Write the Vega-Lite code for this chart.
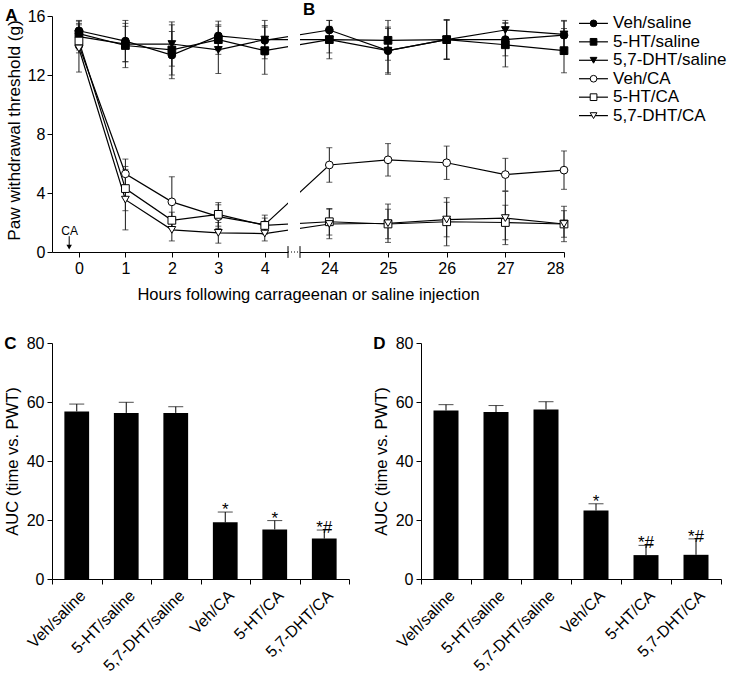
{
  "$schema": "https://vega.github.io/schema/vega-lite/v6.json",
  "padding": {"left": 4, "top": 0, "right": 0, "bottom": 0},
  "config": {
    "font": "Liberation Sans",
    "view": {"stroke": null},
    "axis": {"domainColor": "black", "tickColor": "black", "labelColor": "black", "titleColor": "black", "grid": false, "labelFontSize": 16, "titleFontSize": 16.5, "titleFontWeight": "normal", "tickSize": 5, "domainWidth": 1, "tickWidth": 1, "labelPadding": 3, "labelOverlap": false},
    "title": {"fontSize": 17, "fontWeight": "bold", "anchor": "start", "frame": "bounds", "color": "black"}
  },
  "spacing": 32,
  "vconcat": [
    {
      "spacing": 8,
      "hconcat": [
        {
          "title": {"text": "A", "offset": -24},
          "width": 512,
          "height": 236,
          "data": {"values": [
            {"h": 0, "g": "Veh/saline", "m": 15.0, "e": 0.7},
            {"h": 1, "g": "Veh/saline", "m": 14.3, "e": 1.4},
            {"h": 2, "g": "Veh/saline", "m": 13.35, "e": 1.6},
            {"h": 3, "g": "Veh/saline", "m": 14.65, "e": 1.0},
            {"h": 4, "g": "Veh/saline", "m": 14.35, "e": 1.0},
            {"h": 24, "g": "Veh/saline", "m": 15.05, "e": 0.65},
            {"h": 25, "g": "Veh/saline", "m": 13.65, "e": 1.6},
            {"h": 26, "g": "Veh/saline", "m": 14.4, "e": 1.35},
            {"h": 27, "g": "Veh/saline", "m": 14.4, "e": 1.1},
            {"h": 28, "g": "Veh/saline", "m": 14.7, "e": 1.0},
            {"h": 0, "g": "5-HT/saline", "m": 14.8, "e": 0.85},
            {"h": 1, "g": "5-HT/saline", "m": 14.0, "e": 1.5},
            {"h": 2, "g": "5-HT/saline", "m": 13.7, "e": 1.7},
            {"h": 3, "g": "5-HT/saline", "m": 14.4, "e": 1.0},
            {"h": 4, "g": "5-HT/saline", "m": 13.65, "e": 1.6},
            {"h": 24, "g": "5-HT/saline", "m": 14.4, "e": 1.3},
            {"h": 25, "g": "5-HT/saline", "m": 14.35, "e": 1.35},
            {"h": 26, "g": "5-HT/saline", "m": 14.4, "e": 1.35},
            {"h": 27, "g": "5-HT/saline", "m": 14.05, "e": 1.5},
            {"h": 28, "g": "5-HT/saline", "m": 13.65, "e": 1.5},
            {"h": 0, "g": "5,7-DHT/saline", "m": 14.6, "e": 0.9},
            {"h": 1, "g": "5,7-DHT/saline", "m": 14.1, "e": 1.2},
            {"h": 2, "g": "5,7-DHT/saline", "m": 14.1, "e": 1.5},
            {"h": 3, "g": "5,7-DHT/saline", "m": 13.7, "e": 1.6},
            {"h": 4, "g": "5,7-DHT/saline", "m": 14.4, "e": 1.3},
            {"h": 24, "g": "5,7-DHT/saline", "m": 14.4, "e": 0.9},
            {"h": 25, "g": "5,7-DHT/saline", "m": 13.65, "e": 1.5},
            {"h": 26, "g": "5,7-DHT/saline", "m": 14.4, "e": 1.3},
            {"h": 27, "g": "5,7-DHT/saline", "m": 15.05, "e": 0.65},
            {"h": 28, "g": "5,7-DHT/saline", "m": 14.75, "e": 0.9},
            {"h": 0, "g": "Veh/CA", "m": 14.0, "e": 0.5},
            {"h": 1, "g": "Veh/CA", "m": 5.3, "e": 1.0},
            {"h": 2, "g": "Veh/CA", "m": 3.4, "e": 1.7},
            {"h": 3, "g": "Veh/CA", "m": 2.4, "e": 0.8},
            {"h": 4, "g": "Veh/CA", "m": 1.85, "e": 0.65},
            {"h": 24, "g": "Veh/CA", "m": 5.9, "e": 1.17},
            {"h": 25, "g": "Veh/CA", "m": 6.25, "e": 1.1},
            {"h": 26, "g": "Veh/CA", "m": 6.05, "e": 1.13},
            {"h": 27, "g": "Veh/CA", "m": 5.25, "e": 1.1},
            {"h": 28, "g": "Veh/CA", "m": 5.55, "e": 1.3},
            {"h": 0, "g": "5-HT/CA", "m": 14.3, "e": 0.45},
            {"h": 1, "g": "5-HT/CA", "m": 4.3, "e": 1.5},
            {"h": 2, "g": "5-HT/CA", "m": 2.15, "e": 0.55},
            {"h": 3, "g": "5-HT/CA", "m": 2.55, "e": 0.8},
            {"h": 4, "g": "5-HT/CA", "m": 1.8, "e": 0.5},
            {"h": 24, "g": "5-HT/CA", "m": 2.05, "e": 0.9},
            {"h": 25, "g": "5-HT/CA", "m": 1.9, "e": 1.0},
            {"h": 26, "g": "5-HT/CA", "m": 2.05, "e": 1.63},
            {"h": 27, "g": "5-HT/CA", "m": 2.0, "e": 1.17},
            {"h": 28, "g": "5-HT/CA", "m": 1.9, "e": 1.2},
            {"h": 0, "g": "5,7-DHT/CA", "m": 13.8, "e": 1.6},
            {"h": 1, "g": "5,7-DHT/CA", "m": 3.55, "e": 2.05},
            {"h": 2, "g": "5,7-DHT/CA", "m": 1.5, "e": 0.75},
            {"h": 3, "g": "5,7-DHT/CA", "m": 1.3, "e": 0.7},
            {"h": 4, "g": "5,7-DHT/CA", "m": 1.25, "e": 0.5},
            {"h": 24, "g": "5,7-DHT/CA", "m": 1.9, "e": 1.0},
            {"h": 25, "g": "5,7-DHT/CA", "m": 1.95, "e": 1.3},
            {"h": 26, "g": "5,7-DHT/CA", "m": 2.2, "e": 1.17},
            {"h": 27, "g": "5,7-DHT/CA", "m": 2.3, "e": 1.8},
            {"h": 28, "g": "5,7-DHT/CA", "m": 1.9, "e": 0.9}
          ]},
          "layer": [
            {
              "mark": {"type": "line", "color": "black", "strokeWidth": 1.2},
              "encoding": {
                "x": {"field": "h", "type": "quantitative", "title": "Hours following carrageenan or saline injection",
                  "scale": {"domain": [-0.58, 4.5, 23.5, 28], "range": [0, 236, 248, 512], "nice": false, "zero": false, "padding": 0},
                  "axis": {"values": [0, 1, 2, 3, 4, 24, 25, 26, 27, 28], "format": "d", "titlePadding": 10}},
                "y": {"field": "m", "type": "quantitative", "title": "Paw withdrawal threshold (g)", "scale": {"domain": [0, 16], "nice": false},
                  "axis": {"values": [0, 2, 4, 6, 8, 10, 12, 14, 16], "titleFontSize": 17.2, "titleY": 114, "labelPadding": 2, "titlePadding": 4}},
                "detail": {"field": "g"}
              }
            },
            {
              "mark": {"type": "errorbar", "ticks": {"size": 6, "thickness": 1}, "color": "#1a1a1a"},
              "encoding": {
                "x": {"field": "h", "type": "quantitative", "title": "Hours following carrageenan or saline injection"},
                "y": {"field": "m", "type": "quantitative", "title": "Paw withdrawal threshold (g)"},
                "yError": {"field": "e"}
              }
            },
            {
              "mark": {"type": "point", "filled": true, "opacity": 1, "size": 60, "stroke": "black", "strokeWidth": 1},
              "encoding": {
                "x": {"field": "h", "type": "quantitative", "title": "Hours following carrageenan or saline injection"},
                "y": {"field": "m", "type": "quantitative", "title": "Paw withdrawal threshold (g)"},
                "shape": {"field": "g", "type": "nominal",
                  "scale": {"domain": ["Veh/saline", "5-HT/saline", "5,7-DHT/saline", "Veh/CA", "5-HT/CA", "5,7-DHT/CA"], "range": ["circle", "square", "triangle-down", "circle", "square", "triangle-down"]},
                  "legend": null},
                "fill": {"field": "g", "type": "nominal",
                  "scale": {"domain": ["Veh/saline", "5-HT/saline", "5,7-DHT/saline", "Veh/CA", "5-HT/CA", "5,7-DHT/CA"], "range": ["black", "black", "black", "white", "white", "white"]},
                  "legend": null}
              }
            },
            {
              "data": {"values": [{}]},
              "mark": {"type": "rect", "fill": "white"},
              "encoding": {
                "x": {"datum": 4.5, "type": "quantitative"}, "x2": {"datum": 23.5},
                "y": {"datum": -0.12, "type": "quantitative"}, "y2": {"datum": 16}
              }
            },
            {
              "data": {"values": [{}]},
              "mark": {"type": "rule", "color": "black"},
              "encoding": {"x": {"datum": 4.5, "type": "quantitative"}, "y": {"datum": -0.4, "type": "quantitative"}, "y2": {"datum": 0.4}}
            },
            {
              "data": {"values": [{}]},
              "mark": {"type": "rule", "color": "black"},
              "encoding": {"x": {"datum": 23.5, "type": "quantitative"}, "y": {"datum": -0.4, "type": "quantitative"}, "y2": {"datum": 0.4}}
            },
            {
              "data": {"values": [{}]},
              "mark": {"type": "rule", "color": "black", "strokeDash": [1, 2]},
              "encoding": {"x": {"datum": 4.5, "type": "quantitative"}, "x2": {"datum": 23.5}, "y": {"datum": 0, "type": "quantitative"}}
            },
            {
              "data": {"values": [{}]},
              "mark": {"type": "text", "text": "CA", "fontSize": 12, "baseline": "alphabetic", "color": "black"},
              "encoding": {"x": {"datum": -0.2, "type": "quantitative"}, "y": {"datum": 1.17, "type": "quantitative"}}
            },
            {
              "data": {"values": [{}]},
              "mark": {"type": "rule", "color": "black"},
              "encoding": {"x": {"datum": -0.21, "type": "quantitative"}, "y": {"datum": 1.07, "type": "quantitative"}, "y2": {"datum": 0.45}}
            },
            {
              "data": {"values": [{}]},
              "mark": {"type": "point", "shape": "triangle-down", "filled": true, "color": "black", "size": 30, "opacity": 1},
              "encoding": {"x": {"datum": -0.21, "type": "quantitative"}, "y": {"datum": 0.33, "type": "quantitative"}}
            },
            {
              "data": {"values": [{}]},
              "mark": {"type": "text", "text": "B", "fontSize": 17, "fontWeight": "bold", "align": "left", "baseline": "alphabetic", "color": "black"},
              "encoding": {"x": {"datum": 23.55, "type": "quantitative"}, "y": {"datum": 16.07, "type": "quantitative"}}
            }
          ]
        },
        {
          "width": 150,
          "height": 107,
          "data": {"values": [
            {"g": "Veh/saline"}, {"g": "5-HT/saline"}, {"g": "5,7-DHT/saline"},
            {"g": "Veh/CA"}, {"g": "5-HT/CA"}, {"g": "5,7-DHT/CA"}
          ]},
          "encoding": {
            "y": {"field": "g", "type": "nominal", "sort": null, "scale": {"type": "point", "padding": 0.4}, "axis": null}
          },
          "layer": [
            {
              "mark": {"type": "rule", "color": "black", "strokeWidth": 1.2},
              "encoding": {
                "x": {"datum": 0, "type": "quantitative", "scale": {"domain": [0, 1], "nice": false, "zero": false}, "axis": null},
                "x2": {"datum": 0.193}
              }
            },
            {
              "mark": {"type": "point", "filled": true, "opacity": 1, "stroke": "black", "strokeWidth": 1},
              "encoding": {
                "x": {"datum": 0.097, "type": "quantitative"},
                "shape": {"field": "g", "type": "nominal",
                  "scale": {"domain": ["Veh/saline", "5-HT/saline", "5,7-DHT/saline", "Veh/CA", "5-HT/CA", "5,7-DHT/CA"], "range": ["circle", "square", "triangle-down", "circle", "square", "triangle-down"]},
                  "legend": null},
                "fill": {"field": "g", "type": "nominal",
                  "scale": {"domain": ["Veh/saline", "5-HT/saline", "5,7-DHT/saline", "Veh/CA", "5-HT/CA", "5,7-DHT/CA"], "range": ["black", "black", "black", "white", "white", "white"]},
                  "legend": null},
                "size": {"field": "g", "type": "ordinal",
                  "scale": {"domain": ["Veh/saline", "5-HT/saline", "5,7-DHT/saline", "Veh/CA", "5-HT/CA", "5,7-DHT/CA"], "range": [45, 45, 45, 28, 28, 28]},
                  "legend": null}
              }
            },
            {
              "mark": {"type": "text", "align": "left", "baseline": "middle", "fontSize": 17, "color": "black"},
              "encoding": {
                "x": {"datum": 0.227, "type": "quantitative"},
                "text": {"field": "g"}
              }
            }
          ]
        }
      ]
    },
    {
      "spacing": 23,
      "hconcat": [
        {
          "title": {"text": "C", "offset": -18},
          "width": 297,
          "height": 236,
          "data": {"values": [
            {"g": "Veh/saline", "m": 56.8, "hi": 59.3, "sig": ""},
            {"g": "5-HT/saline", "m": 56.3, "hi": 59.9, "sig": ""},
            {"g": "5,7-DHT/saline", "m": 56.3, "hi": 58.4, "sig": ""},
            {"g": "Veh/CA", "m": 19.2, "hi": 22.7, "sig": "*"},
            {"g": "5-HT/CA", "m": 16.8, "hi": 19.8, "sig": "*"},
            {"g": "5,7-DHT/CA", "m": 13.7, "hi": 16.6, "sig": "*#"}
          ]},
          "encoding": {
            "x": {"field": "g", "type": "nominal", "sort": null, "scale": {"paddingInner": 0, "paddingOuter": 0},
              "axis": {"title": null, "labelAngle": -45, "tickBand": "extent"}}
          },
          "layer": [
            {
              "mark": {"type": "bar", "color": "black", "width": {"band": 0.5}},
              "encoding": {"y": {"field": "m", "type": "quantitative", "title": "AUC (time vs. PWT)", "scale": {"domain": [0, 80]},
                "axis": {"values": [0, 20, 40, 60, 80], "titlePadding": 6}}}
            },
            {
              "mark": {"type": "rule", "color": "black"},
              "encoding": {"y": {"field": "m", "type": "quantitative", "title": "AUC (time vs. PWT)"}, "y2": {"field": "hi"}}
            },
            {
              "mark": {"type": "tick", "color": "black", "size": 15, "thickness": 1, "orient": "horizontal"},
              "encoding": {"y": {"field": "hi", "type": "quantitative", "title": "AUC (time vs. PWT)"}}
            },
            {
              "mark": {"type": "text", "fontSize": 17, "baseline": "alphabetic", "dy": 3, "color": "black"},
              "encoding": {"y": {"field": "hi", "type": "quantitative", "title": "AUC (time vs. PWT)"}, "text": {"field": "sig"}}
            }
          ]
        },
        {
          "title": {"text": "D", "offset": -18},
          "width": 300,
          "height": 236,
          "data": {"values": [
            {"g": "Veh/saline", "m": 57.1, "hi": 59.1, "sig": ""},
            {"g": "5-HT/saline", "m": 56.6, "hi": 58.8, "sig": ""},
            {"g": "5,7-DHT/saline", "m": 57.5, "hi": 60.1, "sig": ""},
            {"g": "Veh/CA", "m": 23.2, "hi": 25.5, "sig": "*"},
            {"g": "5-HT/CA", "m": 8.1, "hi": 11.4, "sig": "*#"},
            {"g": "5,7-DHT/CA", "m": 8.2, "hi": 13.6, "sig": "*#"}
          ]},
          "encoding": {
            "x": {"field": "g", "type": "nominal", "sort": null, "scale": {"paddingInner": 0, "paddingOuter": 0},
              "axis": {"title": null, "labelAngle": -45, "tickBand": "extent"}}
          },
          "layer": [
            {
              "mark": {"type": "bar", "color": "black", "width": {"band": 0.5}},
              "encoding": {"y": {"field": "m", "type": "quantitative", "title": "AUC (time vs. PWT)", "scale": {"domain": [0, 80]},
                "axis": {"values": [0, 20, 40, 60, 80], "titlePadding": 6}}}
            },
            {
              "mark": {"type": "rule", "color": "black"},
              "encoding": {"y": {"field": "m", "type": "quantitative", "title": "AUC (time vs. PWT)"}, "y2": {"field": "hi"}}
            },
            {
              "mark": {"type": "tick", "color": "black", "size": 15, "thickness": 1, "orient": "horizontal"},
              "encoding": {"y": {"field": "hi", "type": "quantitative", "title": "AUC (time vs. PWT)"}}
            },
            {
              "mark": {"type": "text", "fontSize": 17, "baseline": "alphabetic", "dy": 3, "color": "black"},
              "encoding": {"y": {"field": "hi", "type": "quantitative", "title": "AUC (time vs. PWT)"}, "text": {"field": "sig"}}
            }
          ]
        }
      ]
    }
  ]
}
